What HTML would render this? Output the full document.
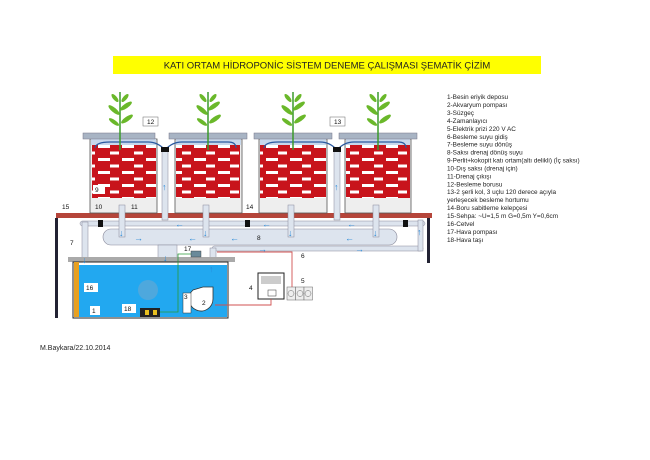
<!DOCTYPE html>
<html><head><meta charset="utf-8"><style>
html,body{margin:0;padding:0;background:#fff;}
svg{display:block;font-family:"Liberation Sans",sans-serif;}
</style></head><body>
<svg width="650" height="460" viewBox="0 0 650 460" xmlns="http://www.w3.org/2000/svg">
<defs>
<pattern id="brick" x="0" y="0" width="24" height="13" patternUnits="userSpaceOnUse">
<rect width="24" height="13" fill="#c8141c"/>
<rect x="2" y="2" width="12" height="3" fill="#fff"/>
<rect x="14" y="8.5" width="9" height="3" fill="#fff"/>
</pattern>
<g id="plant">
<line x1="0" y1="0" x2="0" y2="58" stroke="#3a9a2a" stroke-width="1.5"/>
<ellipse cx="-5" cy="6" rx="5" ry="2" fill="#6ab82a" transform="rotate(50 -5 6)"/>
<ellipse cx="5" cy="6" rx="5" ry="2" fill="#6ab82a" transform="rotate(-50 5 6)"/>
<ellipse cx="-6" cy="18" rx="7" ry="2.3" fill="#6ab82a" transform="rotate(40 -6 18)"/>
<ellipse cx="6" cy="14" rx="7" ry="2.3" fill="#6ab82a" transform="rotate(-35 6 14)"/>
<ellipse cx="7" cy="27" rx="7" ry="2.3" fill="#6ab82a" transform="rotate(-35 7 27)"/>
<ellipse cx="-6" cy="30" rx="6" ry="2" fill="#6ab82a" transform="rotate(35 -6 30)"/>
</g>
</defs>
<rect x="113" y="56" width="428" height="18" fill="#ffff00"/>
<text x="327" y="68.5" font-size="9.5" text-anchor="middle" fill="#222">KATI ORTAM HİDROPONİC SİSTEM DENEME ÇALIŞMASI ŞEMATİK ÇİZİM</text>

<rect x="56" y="213" width="376" height="5" fill="#b5453a"/>
<rect x="55" y="218" width="3" height="100" fill="#223"/>
<rect x="427" y="218" width="3" height="45" fill="#223"/>

<g>
<rect x="90" y="139" width="67" height="74" fill="#eee" stroke="#555" stroke-width="0.8"/>
<rect x="91" y="139" width="65" height="6" fill="#c8d8ec"/>
<rect x="92" y="145" width="64" height="53" fill="url(#brick)"/>
<rect x="83" y="133" width="72" height="6" fill="#a8b4c4" stroke="#778" stroke-width="0.5"/>
<rect x="175" y="139" width="67" height="74" fill="#eee" stroke="#555" stroke-width="0.8"/>
<rect x="176" y="139" width="65" height="6" fill="#c8d8ec"/>
<rect x="176" y="145" width="64" height="53" fill="url(#brick)"/>
<rect x="169" y="133" width="78" height="6" fill="#a8b4c4" stroke="#778" stroke-width="0.5"/>
<rect x="259" y="139" width="68" height="74" fill="#eee" stroke="#555" stroke-width="0.8"/>
<rect x="260" y="139" width="66" height="6" fill="#c8d8ec"/>
<rect x="260" y="145" width="66" height="53" fill="url(#brick)"/>
<rect x="254" y="133" width="78" height="6" fill="#a8b4c4" stroke="#778" stroke-width="0.5"/>
<rect x="345" y="139" width="66" height="74" fill="#eee" stroke="#555" stroke-width="0.8"/>
<rect x="346" y="139" width="64" height="6" fill="#c8d8ec"/>
<rect x="346" y="145" width="64" height="53" fill="url(#brick)"/>
<rect x="339" y="133" width="78" height="6" fill="#a8b4c4" stroke="#778" stroke-width="0.5"/>
</g>
<g fill="none" stroke="#2a5aa0" stroke-width="1.2">
<path d="M95 148 Q96 142 110 142 L148 142 Q158 142 165 150 Q172 142 182 142 L228 142 Q236 142 236 148"/>
<path d="M264 148 Q265 142 278 142 L320 142 Q330 142 337 150 Q344 142 354 142 L398 142 Q406 142 406 148"/>
</g>
<rect x="162" y="148" width="6" height="72" fill="#dde4ee" stroke="#889" stroke-width="0.5"/>
<rect x="334" y="148" width="6" height="72" fill="#dde4ee" stroke="#889" stroke-width="0.5"/>
<rect x="161" y="147" width="8" height="5" fill="#111"/>
<rect x="333" y="147" width="8" height="5" fill="#111"/>
<use href="#plant" x="120" y="92"/>
<use href="#plant" x="208" y="92"/>
<use href="#plant" x="293" y="92"/>
<use href="#plant" x="378" y="92"/>

<rect x="80" y="221" width="345" height="5" rx="2.5" fill="#dde4ee" stroke="#889" stroke-width="0.5"/>
<rect x="103" y="229" width="294" height="16" rx="8" fill="#dde4ee" stroke="#889" stroke-width="0.6"/>
<rect x="212" y="246" width="211" height="5" rx="2.5" fill="#dde4ee" stroke="#889" stroke-width="0.5"/>
<rect x="418" y="220" width="5" height="31" fill="#dde4ee" stroke="#889" stroke-width="0.5"/>
<g fill="#dde4ee" stroke="#889" stroke-width="0.5">
<rect x="119" y="205" width="6" height="32"/>
<rect x="203" y="205" width="6" height="32"/>
<rect x="288" y="205" width="6" height="32"/>
<rect x="373" y="205" width="6" height="32"/>
<rect x="158" y="245" width="19" height="21"/>
<rect x="82" y="222" width="6" height="40"/>
<rect x="210" y="248" width="6" height="40"/>
</g>
<g fill="#111">
<rect x="98" y="220" width="5" height="7"/><rect x="245" y="220" width="5" height="7"/><rect x="403" y="220" width="5" height="7"/>
</g>
<rect x="68" y="257" width="167" height="5" fill="#aaa"/>
<rect x="73" y="262" width="155" height="56" fill="#fff" stroke="#222" stroke-width="1"/>
<rect x="74" y="265" width="153" height="52" fill="#22a8f0"/>
<rect x="74" y="262" width="5" height="55" fill="#e8a020"/>
<circle cx="148" cy="290" r="10" fill="#5aa8d8" opacity="0.8"/>
<path d="M193 290 a12 12 0 1 0 20 9 v-12 h-10 z" fill="#fff" stroke="#333" stroke-width="0.8"/>
<rect x="183" y="293" width="8" height="20" fill="#fff" stroke="#333" stroke-width="0.5"/>
<rect x="140" y="308" width="20" height="9" fill="#222"/>
<rect x="145" y="310" width="4" height="5" fill="#e8c020"/><rect x="153" y="310" width="4" height="5" fill="#e8c020"/>
<polyline points="160,312 178,312 178,254 191,254" fill="none" stroke="#2a9a3a" stroke-width="0.8"/>
<rect x="191" y="251" width="10" height="6" fill="#6a8a9a" stroke="#333" stroke-width="0.4"/>
<rect x="258" y="273" width="26" height="26" fill="#fff" stroke="#222" stroke-width="1"/>
<rect x="261" y="276" width="20" height="8" fill="#ccc"/>
<rect x="268" y="290" width="8" height="6" fill="#fff" stroke="#333" stroke-width="0.5"/>
<g fill="#eee" stroke="#666" stroke-width="0.5">
<rect x="287" y="287" width="8.5" height="13"/><rect x="295.5" y="287" width="8.5" height="13"/><rect x="304" y="287" width="8.5" height="13"/>
<circle cx="291" cy="293.5" r="3" fill="none"/><circle cx="300" cy="293.5" r="3" fill="none"/><circle cx="308" cy="293.5" r="3" fill="none"/>
</g>
<g fill="none" stroke="#d05050" stroke-width="0.9">
<polyline points="215,305 271,305 271,299"/>
<polyline points="217,252 292,252 292,287"/>
</g>
<g fill="#2a8ad8" font-size="9" font-weight="bold">
<text x="119" y="236">↓</text><text x="203" y="236">↓</text><text x="288" y="236">↓</text><text x="373" y="236">↓</text>
<text x="134" y="241">→</text><text x="188" y="241">←</text><text x="230" y="241">←</text><text x="345" y="241">←</text>
<text x="175" y="227">←</text><text x="262" y="227">←</text><text x="347" y="227">←</text>
<text x="258" y="252">→</text><text x="355" y="252">→</text>
<text x="163" y="261">↓</text><text x="82" y="263">↓</text><text x="209" y="272">↑</text>
<text x="162" y="190">↑</text><text x="334" y="190">↑</text><text x="417" y="235">↑</text>
</g>
<g font-size="6.5" fill="#111">
<rect x="143" y="117" width="15" height="9" fill="#fff" stroke="#666" stroke-width="0.5"/><text x="147" y="124">12</text>
<rect x="330" y="117" width="15" height="9" fill="#fff" stroke="#666" stroke-width="0.5"/><text x="334" y="124">13</text>
<rect x="93" y="185" width="12" height="9" fill="#fff"/><text x="95" y="192">9</text>
<text x="95" y="209">10</text><text x="131" y="209">11</text><text x="246" y="209">14</text>
<text x="62" y="209">15</text><text x="257" y="240">8</text><text x="301" y="258">6</text>
<text x="70" y="245">7</text><text x="184" y="251">17</text><text x="249" y="290">4</text><text x="301" y="283">5</text>
<rect x="84" y="283" width="14" height="9" fill="#fff"/><text x="86" y="290">16</text>
<rect x="90" y="306" width="10" height="9" fill="#fff"/><text x="92" y="313">1</text>
<rect x="122" y="304" width="14" height="9" fill="#fff"/><text x="124" y="311">18</text>
<text x="184" y="299">3</text><text x="202" y="305">2</text>
</g>
<g font-size="6.4" fill="#222">
<text x="447" y="99">1-Besin eriyik deposu</text>
<text x="447" y="107">2-Akvaryum pompası</text>
<text x="447" y="115">3-Süzgeç</text>
<text x="447" y="123">4-Zamanlayıcı</text>
<text x="447" y="131">5-Elektrik prizi 220 V AC</text>
<text x="447" y="139">6-Besleme suyu gidiş</text>
<text x="447" y="146.5">7-Besleme suyu dönüş</text>
<text x="447" y="154.5">8-Saksı drenaj dönüş suyu</text>
<text x="447" y="162.5">9-Perlit+kokopit katı ortam(altı delikli) (İç saksı)</text>
<text x="447" y="170.5">10-Dış saksı (drenaj için)</text>
<text x="447" y="178.5">11-Drenaj çıkışı</text>
<text x="447" y="186.5">12-Besleme borusu</text>
<text x="447" y="194">13-2 şerli kol, 3 uçlu 120 derece açıyla</text>
<text x="447" y="202">yerleşecek besleme hortumu</text>
<text x="447" y="210">14-Boru sabitleme kelepçesi</text>
<text x="447" y="218">15-Sehpa: ~U=1,5 m G=0,5m Y=0,6cm</text>
<text x="447" y="226">16-Cetvel</text>
<text x="447" y="234">17-Hava pompası</text>
<text x="447" y="242">18-Hava taşı</text>
</g>
<text x="40" y="350" font-size="7" fill="#222">M.Baykara/22.10.2014</text>
</svg>
</body></html>
